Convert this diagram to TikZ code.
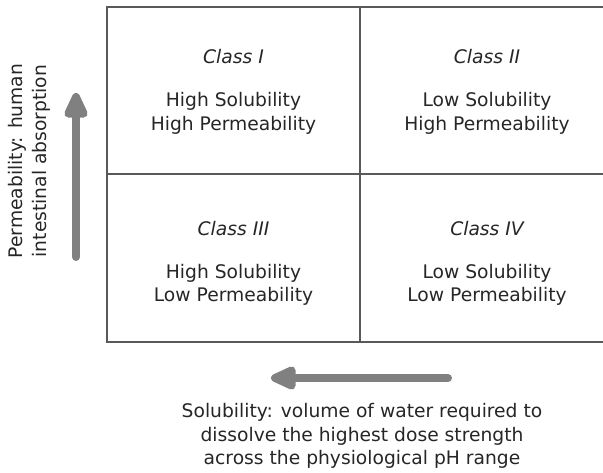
\documentclass[tikz,border=0pt]{standalone}
\usepackage{fontspec}
\setmainfont{DejaVu Sans}
\usetikzlibrary{arrows.meta}

\tikzset{
  cell text/.style={align=center, font=\fontsize{18.7}{23.5}\selectfont, text=black!85},
  class name/.style={font=\fontsize{18.7}{23.5}\selectfont\itshape, text=black!85},
  axis arrow/.style={draw=black!50, line width=8pt, line cap=round,
                     -{Triangle[width=25pt,length=31pt,round]}},
  grid line/.style={draw=black!65, line width=1.2pt}
}

\begin{document}
\begin{tikzpicture}
\useasboundingbox (0,0) rectangle (603pt,472pt);

% table
\coordinate (tl) at (107pt,465pt);
\coordinate (tr) at (603pt,465pt);
\coordinate (ml) at (107pt,298pt);
\coordinate (mr) at (603pt,298pt);
\coordinate (bl) at (107pt,130pt);
\coordinate (br) at (603pt,130pt);
\coordinate (vt) at (360pt,465pt);
\coordinate (vb) at (360pt,130pt);

\draw[grid line] (tr) -- (tl) -- (bl) -- (br);
\draw[grid line] (ml) -- (mr);
\draw[grid line] (vt) -- (vb);

\node[class name](c1) at (233.5pt,415pt) {Class I};
\node[cell text](t1) at (233.5pt,358.5pt) {High Solubility\\High Permeability};
\node[class name](c2) at (487pt,415pt) {Class II};
\node[cell text](t2) at (487pt,358.5pt) {Low Solubility\\High Permeability};
\node[class name](c3) at (233.5pt,243pt) {Class III};
\node[cell text](t3) at (233.5pt,187pt) {High Solubility\\Low Permeability};
\node[class name](c4) at (487pt,243pt) {Class IV};
\node[cell text](t4) at (487pt,187pt) {Low Solubility\\Low Permeability};

% axes
\coordinate (pstart) at (76pt,215pt);
\coordinate (pend) at (76pt,379pt);
\draw[axis arrow] (pstart) -- (pend);
\node[cell text, rotate=90](plabel) at (29.5pt,311pt)
  {Permeability: human\\intestinal absorption};

\coordinate (sstart) at (448pt,94pt);
\coordinate (send) at (271pt,94pt);
\draw[axis arrow] (sstart) -- (send);
\node[cell text](slabel) at (362pt,36pt)
  {Solubility: volume of water required to\\dissolve the highest dose strength\\across the physiological pH range};

\end{tikzpicture}
\end{document}
